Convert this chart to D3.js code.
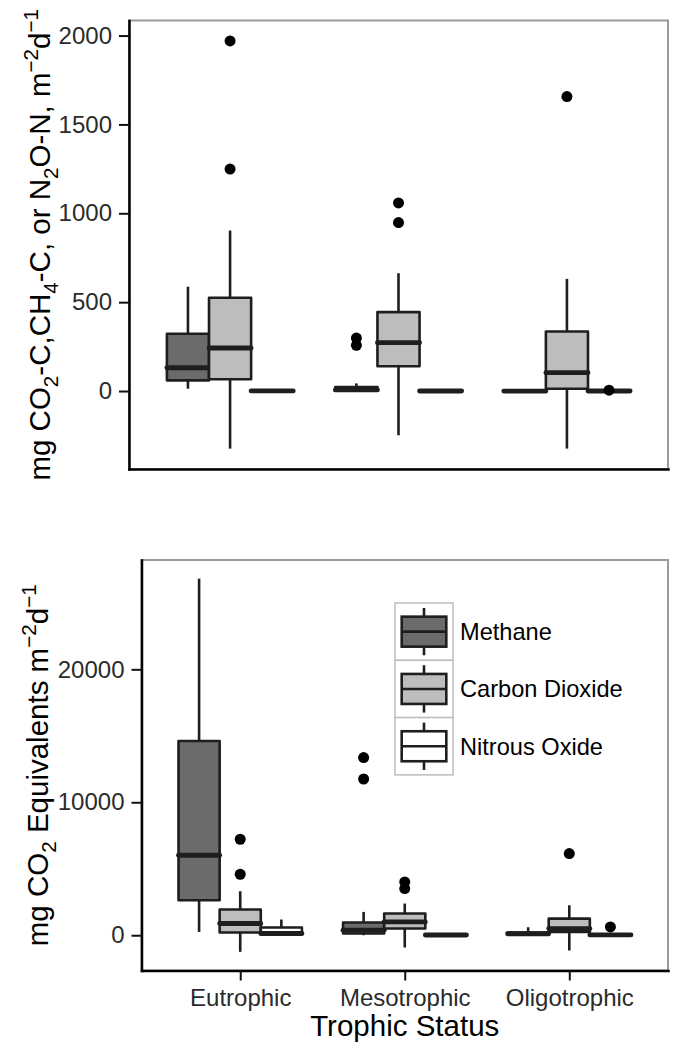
<!DOCTYPE html>
<html>
<head>
<meta charset="utf-8">
<script src="https://cdn.jsdelivr.net/npm/d3@7"></script>
<style>
  html, body { margin: 0; padding: 0; background: #fff; }
  svg { display: block; font-family: "Liberation Sans", Arial, Helvetica, sans-serif; }
</style>
</head>
<body>
<svg id="chart" width="678" height="1050"></svg>
<script>
// ---------- data ----------
const categories = ["Eutrophic", "Mesotrophic", "Oligotrophic"];
const gases = ["Methane", "Carbon Dioxide", "Nitrous Oxide"];
const gasFills = ["#6b6b6b", "#bdbdbd", "#ffffff"];

// box stats per category: [whiskerLow, Q1, median, Q3, whiskerHigh]
// Top panel: mg CO2-C, CH4-C, or N2O-N m-2 d-1
const topMethane = [[13, 60, 131, 322, 587], [0, 2, 6, 22, 43], [-2, -1, 0, 1, 3]];
const topCO2     = [[-324, 66, 242, 525, 903], [-249, 139, 272, 444, 663], [-324, 13, 103, 335, 631]];
const topN2O     = [[-1, 0, 0.3, 1.2, 2.5], [-1, 0, 0.2, 0.8, 2], [-1, 0, 0.2, 0.8, 2]];
const topMethaneOut = [[], [257, 298], []];
const topCO2Out     = [[1249, 1970], [948, 1058], [1657]];
const topN2OOut     = [[], [], [5]];
const topTicks = [0, 500, 1000, 1500, 2000];

// Bottom panel: mg CO2 equivalents m-2 d-1
const botMethane = [[250, 2632, 6015, 14609, 26820], [0, 128, 376, 955, 1752], [0, 20, 120, 200, 600]];
const botCO2     = [[-1250, 203, 880, 1932, 3308], [-925, 504, 1000, 1632, 2383], [-1150, 250, 500, 1250, 2255]];
const botN2O     = [[0, 53, 128, 579, 1180], [-20, 0, 15, 40, 100], [-20, 0, 20, 60, 150]];
const botMethaneOut = [[], [11750, 13360], []];
const botCO2Out     = [[4586, 7218], [3511, 4008], [6140]];
const botN2OOut     = [[], [], [625]];
const botTicks = [0, 10000, 20000];

// ---------- drawing ----------
const svg = d3.select("#chart");
const STROKE = "#1e1e1e";

function richText(sel, parts, size) {
  let shift = 0;
  parts.forEach(([t, type]) => {
    const ts = sel.append("tspan").text(t);
    let target = 0;
    if (type === "sub") { ts.attr("font-size", size * 0.7); target = size * 0.28; }
    else if (type === "sup") { ts.attr("font-size", size * 0.7); target = -size * 0.42; }
    else { ts.attr("font-size", size); }
    ts.attr("dy", target - shift);
    shift = target;
  });
}

function drawPanel(p, series, outliers, ticks, showX) {
  const g = svg.append("g");
  const x = d3.scalePoint().domain(categories).range([p.left, p.right]).padding(0.6);
  const step = x.step();
  const xi = d3.scaleBand().domain(gases).range([-0.375 * step, 0.375 * step]);
  const bw = xi.bandwidth();

  const allVals = [];
  series.forEach(s => s.forEach(b => allVals.push(...b)));
  outliers.forEach(o => o.forEach(v => allVals.push(...v)));
  const [mn, mx] = d3.extent(allVals);
  const pad = (mx - mn) * 0.05;
  const y = d3.scaleLinear().domain([mn - pad, mx + pad]).range([p.bottom, p.top]);

  g.append("rect")
    .attr("x", p.left).attr("y", p.top)
    .attr("width", p.right - p.left).attr("height", p.bottom - p.top)
    .attr("fill", "#fff").attr("stroke", "#9a9a9a").attr("stroke-width", 2);

  gases.forEach((gas, gi) => {
    categories.forEach((cat, ci) => {
      const s = series[gi][ci];
      const cx = x(cat) + xi(gas) + bw / 2;
      const bg = g.append("g");
      bg.append("line").attr("x1", cx).attr("x2", cx).attr("y1", y(s[0])).attr("y2", y(s[1]))
        .attr("stroke", STROKE).attr("stroke-width", 2.6);
      bg.append("line").attr("x1", cx).attr("x2", cx).attr("y1", y(s[3])).attr("y2", y(s[4]))
        .attr("stroke", STROKE).attr("stroke-width", 2.6);
      bg.append("rect")
        .attr("x", cx - bw / 2).attr("y", y(s[3]))
        .attr("width", bw).attr("height", Math.max(0, y(s[1]) - y(s[3])))
        .attr("fill", gasFills[gi]).attr("stroke", STROKE).attr("stroke-width", 2.6)
        .attr("stroke-linejoin", "round");
      bg.append("line").attr("x1", cx - bw / 2).attr("x2", cx + bw / 2)
        .attr("y1", y(s[2])).attr("y2", y(s[2]))
        .attr("stroke", STROKE).attr("stroke-width", 4.8).attr("stroke-linecap", "round");
      bg.selectAll("circle").data(outliers[gi][ci]).join("circle")
        .attr("cx", cx).attr("cy", d => y(d)).attr("r", 5.5).attr("fill", "#000");
    });
  });

  const ay = g.append("g").attr("transform", `translate(${p.left},0)`)
    .call(d3.axisLeft(y).tickValues(ticks).tickFormat(d3.format("d"))
      .tickSize(10).tickSizeOuter(0).tickPadding(7));
  ay.select(".domain").attr("stroke", "#000").attr("stroke-width", 2.5).attr("stroke-linecap", "square");
  ay.selectAll(".tick line").attr("stroke", "#111").attr("stroke-width", 2);
  ay.selectAll(".tick text").attr("font-size", 24).attr("fill", "#2b2b2b")
    .attr("font-family", "Liberation Sans, Arial, sans-serif");

  const ax = g.append("g").attr("transform", `translate(0,${p.bottom})`)
    .call(d3.axisBottom(x).tickSize(showX ? 10 : 0).tickSizeOuter(0).tickPadding(8));
  ax.select(".domain").attr("stroke", "#000").attr("stroke-width", 2.5).attr("stroke-linecap", "square");
  ax.selectAll(".tick line").attr("stroke", "#111").attr("stroke-width", 2);
  ax.selectAll(".tick text").attr("font-size", 24).attr("fill", "#2b2b2b")
    .attr("font-family", "Liberation Sans, Arial, sans-serif");
  if (!showX) ax.selectAll(".tick").remove();

  return { x, y, g };
}

const topP = { left: 129, right: 668, top: 20.5, bottom: 469 };
const botP = { left: 141.5, right: 668, top: 560, bottom: 970.5 };

drawPanel(topP, [topMethane, topCO2, topN2O], [topMethaneOut, topCO2Out, topN2OOut], topTicks, false);
drawPanel(botP, [botMethane, botCO2, botN2O], [botMethaneOut, botCO2Out, botN2OOut], botTicks, true);

const T = 29.5;
const t1 = svg.append("text")
  .attr("transform", `translate(50,${(topP.top + topP.bottom) / 2}) rotate(-90)`)
  .attr("text-anchor", "middle").attr("fill", "#000");
richText(t1, [["mg CO", "n"], ["2", "sub"], ["-C,CH", "n"], ["4", "sub"], ["-C, or N", "n"], ["2", "sub"],
              ["O-N, m", "n"], ["\u22122", "sup"], ["d", "n"], ["\u22121", "sup"]], T);

const t2 = svg.append("text")
  .attr("transform", `translate(48,${(botP.top + botP.bottom) / 2}) rotate(-90)`)
  .attr("text-anchor", "middle").attr("fill", "#000");
richText(t2, [["mg CO", "n"], ["2", "sub"], [" Equivalents m", "n"], ["\u22122", "sup"], ["d", "n"], ["\u22121", "sup"]], T);

svg.append("text")
  .attr("x", (botP.left + botP.right) / 2).attr("y", 1036)
  .attr("text-anchor", "middle").attr("font-size", T).attr("fill", "#000")
  .text("Trophic Status");

const lg = svg.append("g").attr("transform", "translate(395,603)");
const keyW = 58, keyH = 57.3;
gases.forEach((gas, i) => {
  const k = lg.append("g").attr("transform", `translate(0,${i * keyH})`);
  k.append("rect").attr("width", keyW).attr("height", keyH)
    .attr("fill", "#fff").attr("stroke", "#bdbdbd").attr("stroke-width", 1.5);
  const cx = keyW / 2, cy = keyH / 2;
  k.append("line").attr("x1", cx).attr("x2", cx).attr("y1", 5).attr("y2", keyH - 5)
    .attr("stroke", STROKE).attr("stroke-width", 2.6);
  k.append("rect").attr("x", 6.7).attr("y", cy - 15).attr("width", keyW - 13.4).attr("height", 30)
    .attr("fill", gasFills[i]).attr("stroke", STROKE).attr("stroke-width", 2.6);
  k.append("line").attr("x1", 6.7).attr("x2", keyW - 6.7).attr("y1", cy).attr("y2", cy)
    .attr("stroke", STROKE).attr("stroke-width", 2.6);
  k.append("text").attr("x", 65).attr("y", cy).attr("dy", "0.35em")
    .attr("font-size", 23.6).attr("fill", "#000").text(gas);
});
</script>
</body>
</html>
